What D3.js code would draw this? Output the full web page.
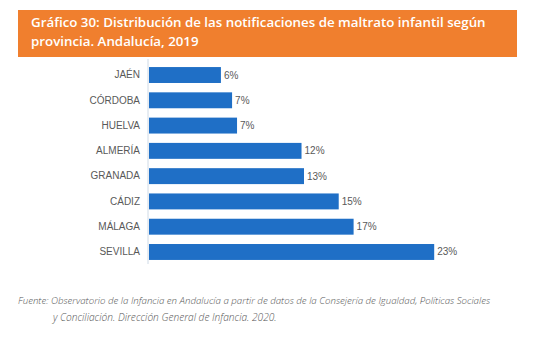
<!DOCTYPE html>
<html>
<head>
<meta charset="utf-8">
<script src="https://cdn.jsdelivr.net/npm/d3@7"></script>
<style>
html,body{margin:0;padding:0;background:#fff;}
svg{display:block;}
</style>
</head>
<body>
<svg id="chart" width="542" height="356"></svg>
<script>
const categories = ["JAÉN","CÓRDOBA","HUELVA","ALMERÍA","GRANADA","CÁDIZ","MÁLAGA","SEVILLA"];
const values = [5.8, 6.7, 7.1, 12.3, 12.5, 15.3, 16.5, 23.0];
const valueLabels = ["6%","7%","7%","12%","13%","15%","17%","23%"];
const titleLines = ["Gráfico 30: Distribución de las notificaciones de maltrato infantil según","provincia. Andalucía, 2019"];
const sourceLines = ["Fuente: Observatorio de la Infancia en Andalucía a partir de datos de la Consejería de Igualdad, Políticas Sociales","y Conciliación. Dirección General de Infancia. 2020."];

const svg = d3.select("#chart");

// header
svg.append("rect").attr("x",18).attr("y",10).attr("width",499).attr("height",47).attr("fill","#F07F2E");
const t1 = svg.append("text").attr("x",31).attr("y",27)
  .attr("font-family","'Open Sans', sans-serif").attr("font-weight",600).attr("font-size",13)
  .attr("fill","#fff").text(titleLines[0]);
let w = t1.node().getComputedTextLength();
const titleSize = 13 * 455 / w;
t1.attr("font-size", titleSize);
svg.append("text").attr("x",31).attr("y",46)
  .attr("font-family","'Open Sans', sans-serif").attr("font-weight",600).attr("font-size",titleSize)
  .attr("fill","#fff").text(titleLines[1]);

// scales
const x = d3.scaleLinear().domain([0,25]).range([149,459]);
const y = d3.scaleBand().domain(categories).range([62,265]).paddingInner(0.37).paddingOuter(0.2);

// bars
svg.append("g").selectAll("rect").data(categories).join("rect")
  .attr("x", x(0))
  .attr("y", d => y(d))
  .attr("width", (d,i) => x(values[i]) - x(0))
  .attr("height", y.bandwidth())
  .attr("fill","#1F6FC6");

// axis
const axis = d3.axisLeft(y).tickSize(0).tickPadding(8);
const ag = svg.append("g").attr("transform",`translate(${x(0)-1},0)`).call(axis);
ag.select(".domain").attr("stroke","#CFDAE6").attr("d",`M0,59V264`);
ag.selectAll("text").attr("font-family","'Liberation Sans', Arial, sans-serif").attr("font-size",10).attr("fill","#595959");

// value labels
svg.append("g").selectAll("text").data(categories).join("text")
  .attr("x",(d,i)=> x(values[i]) + 3)
  .attr("y", d => y(d) + y.bandwidth()/2)
  .attr("dy","0.35em")
  .attr("font-family","'Liberation Sans', Arial, sans-serif").attr("font-size",10).attr("fill","#595959")
  .text((d,i)=> valueLabels[i]);

// source (line 1 justified, line 2 natural)
const s2 = svg.append("text").attr("x",53).attr("y",321)
  .attr("font-family","'Open Sans', sans-serif").attr("font-style","italic").attr("font-weight",300)
  .attr("font-size",9.5).attr("fill","#555").text(sourceLines[1]);
const srcSize = 9.5 * 224 / s2.node().getComputedTextLength();
s2.attr("font-size", srcSize);
const s1 = svg.append("text").attr("x",18).attr("y",304)
  .attr("font-family","'Open Sans', sans-serif").attr("font-style","italic").attr("font-weight",300)
  .attr("font-size",srcSize).attr("fill","#555").text(sourceLines[0]);
const nat = s1.node().getComputedTextLength();
const spaces = (sourceLines[0].match(/ /g) || []).length;
const extra = (472 - nat) / spaces;
if (extra > 0) s1.attr("word-spacing", extra);
else s1.attr("font-size", srcSize * 472 / nat);
</script>
</body>
</html>
